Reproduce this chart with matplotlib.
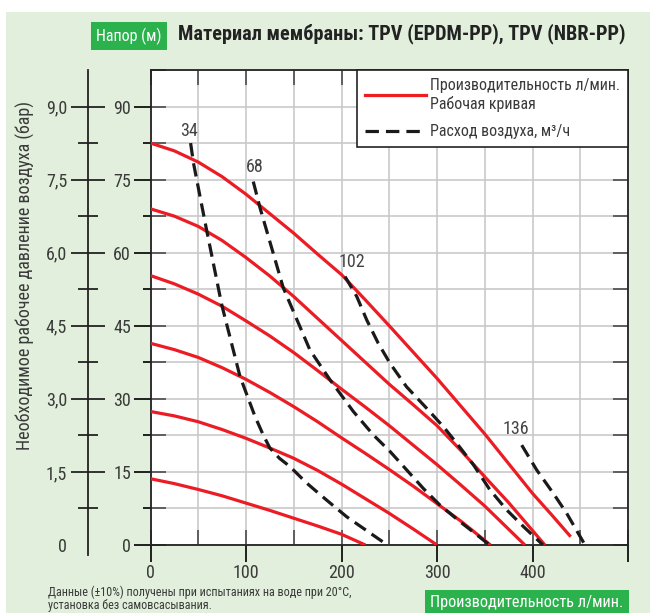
import numpy as np
import matplotlib.pyplot as plt
from matplotlib.patches import Rectangle
from matplotlib.lines import Line2D
from matplotlib import font_manager

# pick the narrowest font that is installed
fl = font_manager.fontManager.ttflist
names = {f.name for f in fl}
FONT = None
for n in ['Liberation Sans Narrow', 'Roboto Condensed', 'Open Sans Condensed', 'DejaVu Sans Condensed']:
    if n in names:
        FONT = n
        break
if FONT is None:
    if any(f.name == 'DejaVu Sans' and 'condensed' in str(f.stretch) for f in fl):
        FONT = 'DejaVu Sans'
        plt.rcParams['font.stretch'] = 'condensed'
    else:
        FONT = 'Roboto'
plt.rcParams['font.family'] = [FONT, 'DejaVu Sans']

# Рабочие кривые (производительность, л/мин -> напор, м)
a_x = [0, 25, 50, 75, 100, 125, 150, 175, 200, 225, 250, 275, 300, 325, 350, 375, 400, 420, 440]
a_y = [82.5, 80.9, 78.6, 75.6, 72, 68, 64, 59.7, 55.5, 50.3, 45, 39.6, 34.2, 28.5, 22.8, 16.7, 10.6, 6.2, 1.7]
b_x = [0, 25, 50, 75, 100, 125, 150, 175, 200, 225, 250, 275, 300, 325, 350, 375, 413]
b_y = [69, 67.5, 65.4, 62.5, 59, 55.2, 51, 46.5, 42, 37.5, 33, 28.8, 24.5, 19.4, 14, 8.7, 0]
c_x = [0, 25, 50, 75, 100, 125, 150, 175, 200, 225, 250, 275, 300, 325, 350, 392]
c_y = [55.3, 53.6, 51.5, 49, 46, 42.9, 39.5, 35.8, 32, 28.3, 24.5, 20.5, 16.5, 12.3, 8, 0]
d_x = [0, 25, 50, 75, 100, 125, 150, 175, 200, 225, 250, 275, 300, 325, 356]
d_y = [41.4, 40.1, 38.5, 36.4, 34, 31.3, 28.4, 25.3, 22, 18.8, 15.5, 12.1, 8.5, 4.9, 0]
e_x = [0, 25, 50, 75, 100, 125, 150, 175, 200, 225, 250, 275, 300]
e_y = [27.4, 26.5, 25.3, 23.7, 21.9, 19.9, 17.8, 15.3, 12.5, 9.5, 6.5, 3.3, 0]
f_x = [0, 25, 50, 75, 100, 125, 150, 175, 200, 225]
f_y = [13.6, 12.6, 11.4, 10.1, 8.6, 7.1, 5.5, 3.9, 2.2, 0]
curves = [(a_x, a_y), (b_x, b_y), (c_x, c_y), (d_x, d_y), (e_x, e_y), (f_x, f_y)]

# Расход воздуха, м3/ч
air34_x = [42, 45, 58.7, 74.6, 93.7, 109.4, 118, 125, 135, 146, 163.6, 184.5, 205.4, 248]
air34_y = [82.5, 78.4, 64.7, 49.3, 34.6, 26.4, 22.6, 19.9, 17.8, 16.1, 12.7, 9.2, 5.8, 0]
air68_x = [107.6, 114.7, 139, 167, 188, 212.4, 233.3, 250.8, 268.3, 285.7, 303, 324, 341.6, 355]
air68_y = [74.6, 69.2, 52.8, 40, 33.9, 27.4, 22.6, 19.2, 15.4, 11.6, 8.2, 4.8, 2.1, 0]
air102_x = [203.7, 216, 226.4, 238.5, 250.8, 268, 289, 306.6, 320.6, 338, 355.5, 373, 390.4, 411]
air102_y = [55.1, 51, 46.2, 41.4, 37.3, 32.5, 28.1, 24.3, 20.9, 16.5, 11.3, 7.2, 3.8, 0]
air136_x = [388.7, 404.4, 421.8, 435.8, 455]
air136_y = [20.5, 15.4, 10.6, 6.5, 0]
air_lines = [(air34_x, air34_y), (air68_x, air68_y), (air102_x, air102_y), (air136_x, air136_y)]
air_labels = ['34', '68', '102', '136']
air_label_pos = [(40, 85), (109.5, 77.5), (211, 58), (382.7, 23.8)]

x_ticks = [0, 100, 200, 300, 400]
y_ticks = [0, 15, 30, 45, 60, 75, 90]
bar_ticks = [0, 1.5, 3.0, 4.5, 6.0, 7.5, 9.0]
bar_labels = ['0', '1,5', '3,0', '4,5', '6,0', '7,5', '9,0']

RED = '#ec1c24'
GREEN = '#2bb24c'
BG = '#e2efdc'
TXT = '#3a3a3a'

fig = plt.figure(figsize=(6.5, 6.13), dpi=100)
fig.patch.set_facecolor('white')
fig.patches.append(Rectangle((6 / 650, 0), 1, 1 - 12 / 613, transform=fig.transFigure,
                             facecolor=BG, edgecolor='none', zorder=-10))

ax = fig.add_axes([150.5 / 650, 68 / 613, 477.5 / 650, 475 / 613])
ax.set_facecolor('white')
ax.set_xlim(0, 500)
ax.set_ylim(0, 97.5)

ax.set_xticks(np.arange(0, 501, 50), minor=True)
ax.set_yticks(np.arange(0, 97.6, 7.5), minor=True)
ax.set_xticks(x_ticks)
ax.set_yticks(y_ticks)
ax.grid(True, which='both', color='#c9c9c9', lw=1.2, zorder=0)
ax.tick_params(which='both', direction='in', length=11, width=1.3, color='#555',
               top=True, right=True, labelsize=13, labelcolor=TXT)
ax.tick_params(axis='y', pad=14)
ax.tick_params(axis='x', pad=14)
for s in ax.spines.values():
    s.set_color('#222')
    s.set_linewidth(1.3)

# outward ticks on the inner scale
sx = ax.secondary_xaxis('bottom')
sx.set_xticks(x_ticks + [500])
sx.tick_params(direction='out', length=12, width=1.3, color='#111', labelbottom=False)
sx.spines['bottom'].set_visible(False)
sy = ax.secondary_yaxis('left')
sy.set_yticks(y_ticks)
sy.set_yticks(np.arange(7.5, 90, 15), minor=True)
sy.tick_params(which='major', direction='out', length=12, width=1.3, color='#111', labelleft=False)
sy.tick_params(which='minor', direction='out', length=6, width=1.3, color='#111')
sy.spines['left'].set_visible(False)

for cx, cy in curves:
    ax.plot(cx, cy, color=RED, lw=2.3, zorder=3, solid_capstyle='butt')
for (lx, ly), lab, (tx, ty) in zip(air_lines, air_labels, air_label_pos):
    ax.plot(lx, ly, color='#1a1a1a', lw=2.3, dashes=(4.2, 2.2), zorder=4)
    ax.text(tx, ty, lab, fontsize=13, color='#444', ha='center', va='center', zorder=5)

handles = [Line2D([], [], color=RED, lw=2.3),
           Line2D([], [], color='#1a1a1a', lw=2.3, dashes=(4.2, 2.2))]
leg = ax.legend(handles, ['Производительность л/мин.\nРабочая кривая', 'Расход воздуха, м³/ч'],
                loc='upper right', borderaxespad=0, fancybox=False, framealpha=1,
                edgecolor='#222', fontsize=11.5, handlelength=3.8, handletextpad=0.25,
                labelspacing=0.8, borderpad=0.5, labelcolor=TXT)
leg.get_frame().set_linewidth(1.2)
leg.set_zorder(10)

# outer scale (bar)
ax2 = fig.add_axes([88 / 650, 68 / 613, 0.001, 475 / 613])
ax2.set_ylim(0, 9.75)
ax2.patch.set_visible(False)
for k in ['right', 'top', 'bottom']:
    ax2.spines[k].set_visible(False)
ax2.spines['left'].set_color('#222')
ax2.spines['left'].set_linewidth(1.3)
ax2.spines['left'].set_bounds(-0.2, 9.75)
ax2.set_xticks([])
ax2.set_yticks(bar_ticks)
ax2.set_yticklabels(bar_labels)
ax2.set_yticks(np.arange(0.75, 9.0, 1.5), minor=True)
ax2.tick_params(which='major', direction='inout', length=24, width=1.3, color='#222',
                labelsize=13, labelcolor=TXT, pad=3)
ax2.tick_params(which='minor', direction='inout', length=15, width=1.3, color='#222')
ax2.yaxis.get_major_ticks()[0].tick1line.set_visible(False)

fig.text(25 / 650, 1 - 275 / 613, 'Необходимое рабочее давление воздуха (бар)',
         rotation=90, ha='center', va='center', fontsize=13, color=TXT)

# header
fig.text(129 / 650, 1 - 36 / 613, 'Напор (м)', ha='center', va='center', fontsize=11.5,
         color='white', bbox=dict(boxstyle='square,pad=0.35', facecolor=GREEN, edgecolor='none'))
fig.text(178 / 650, 1 - 34 / 613, 'Материал мембраны: TPV (EPDM-PP), TPV (NBR-PP)',
         ha='left', va='center', fontsize=14.6, fontweight='bold', color='#222')

fig.text(48 / 650, 1 - 599 / 613, 'Данные (±10%) получены при испытаниях на воде при 20°C,\nустановка без самовсасывания.',
         ha='left', va='center', fontsize=8.7, color=TXT, linespacing=0.95)
fig.text(527 / 650, 1 - 602 / 613, 'Производительность л/мин.', ha='center', va='center',
         fontsize=11.7, color='white',
         bbox=dict(boxstyle='square,pad=0.3', facecolor=GREEN, edgecolor='none'))

fig.savefig('out.png', dpi=100)
